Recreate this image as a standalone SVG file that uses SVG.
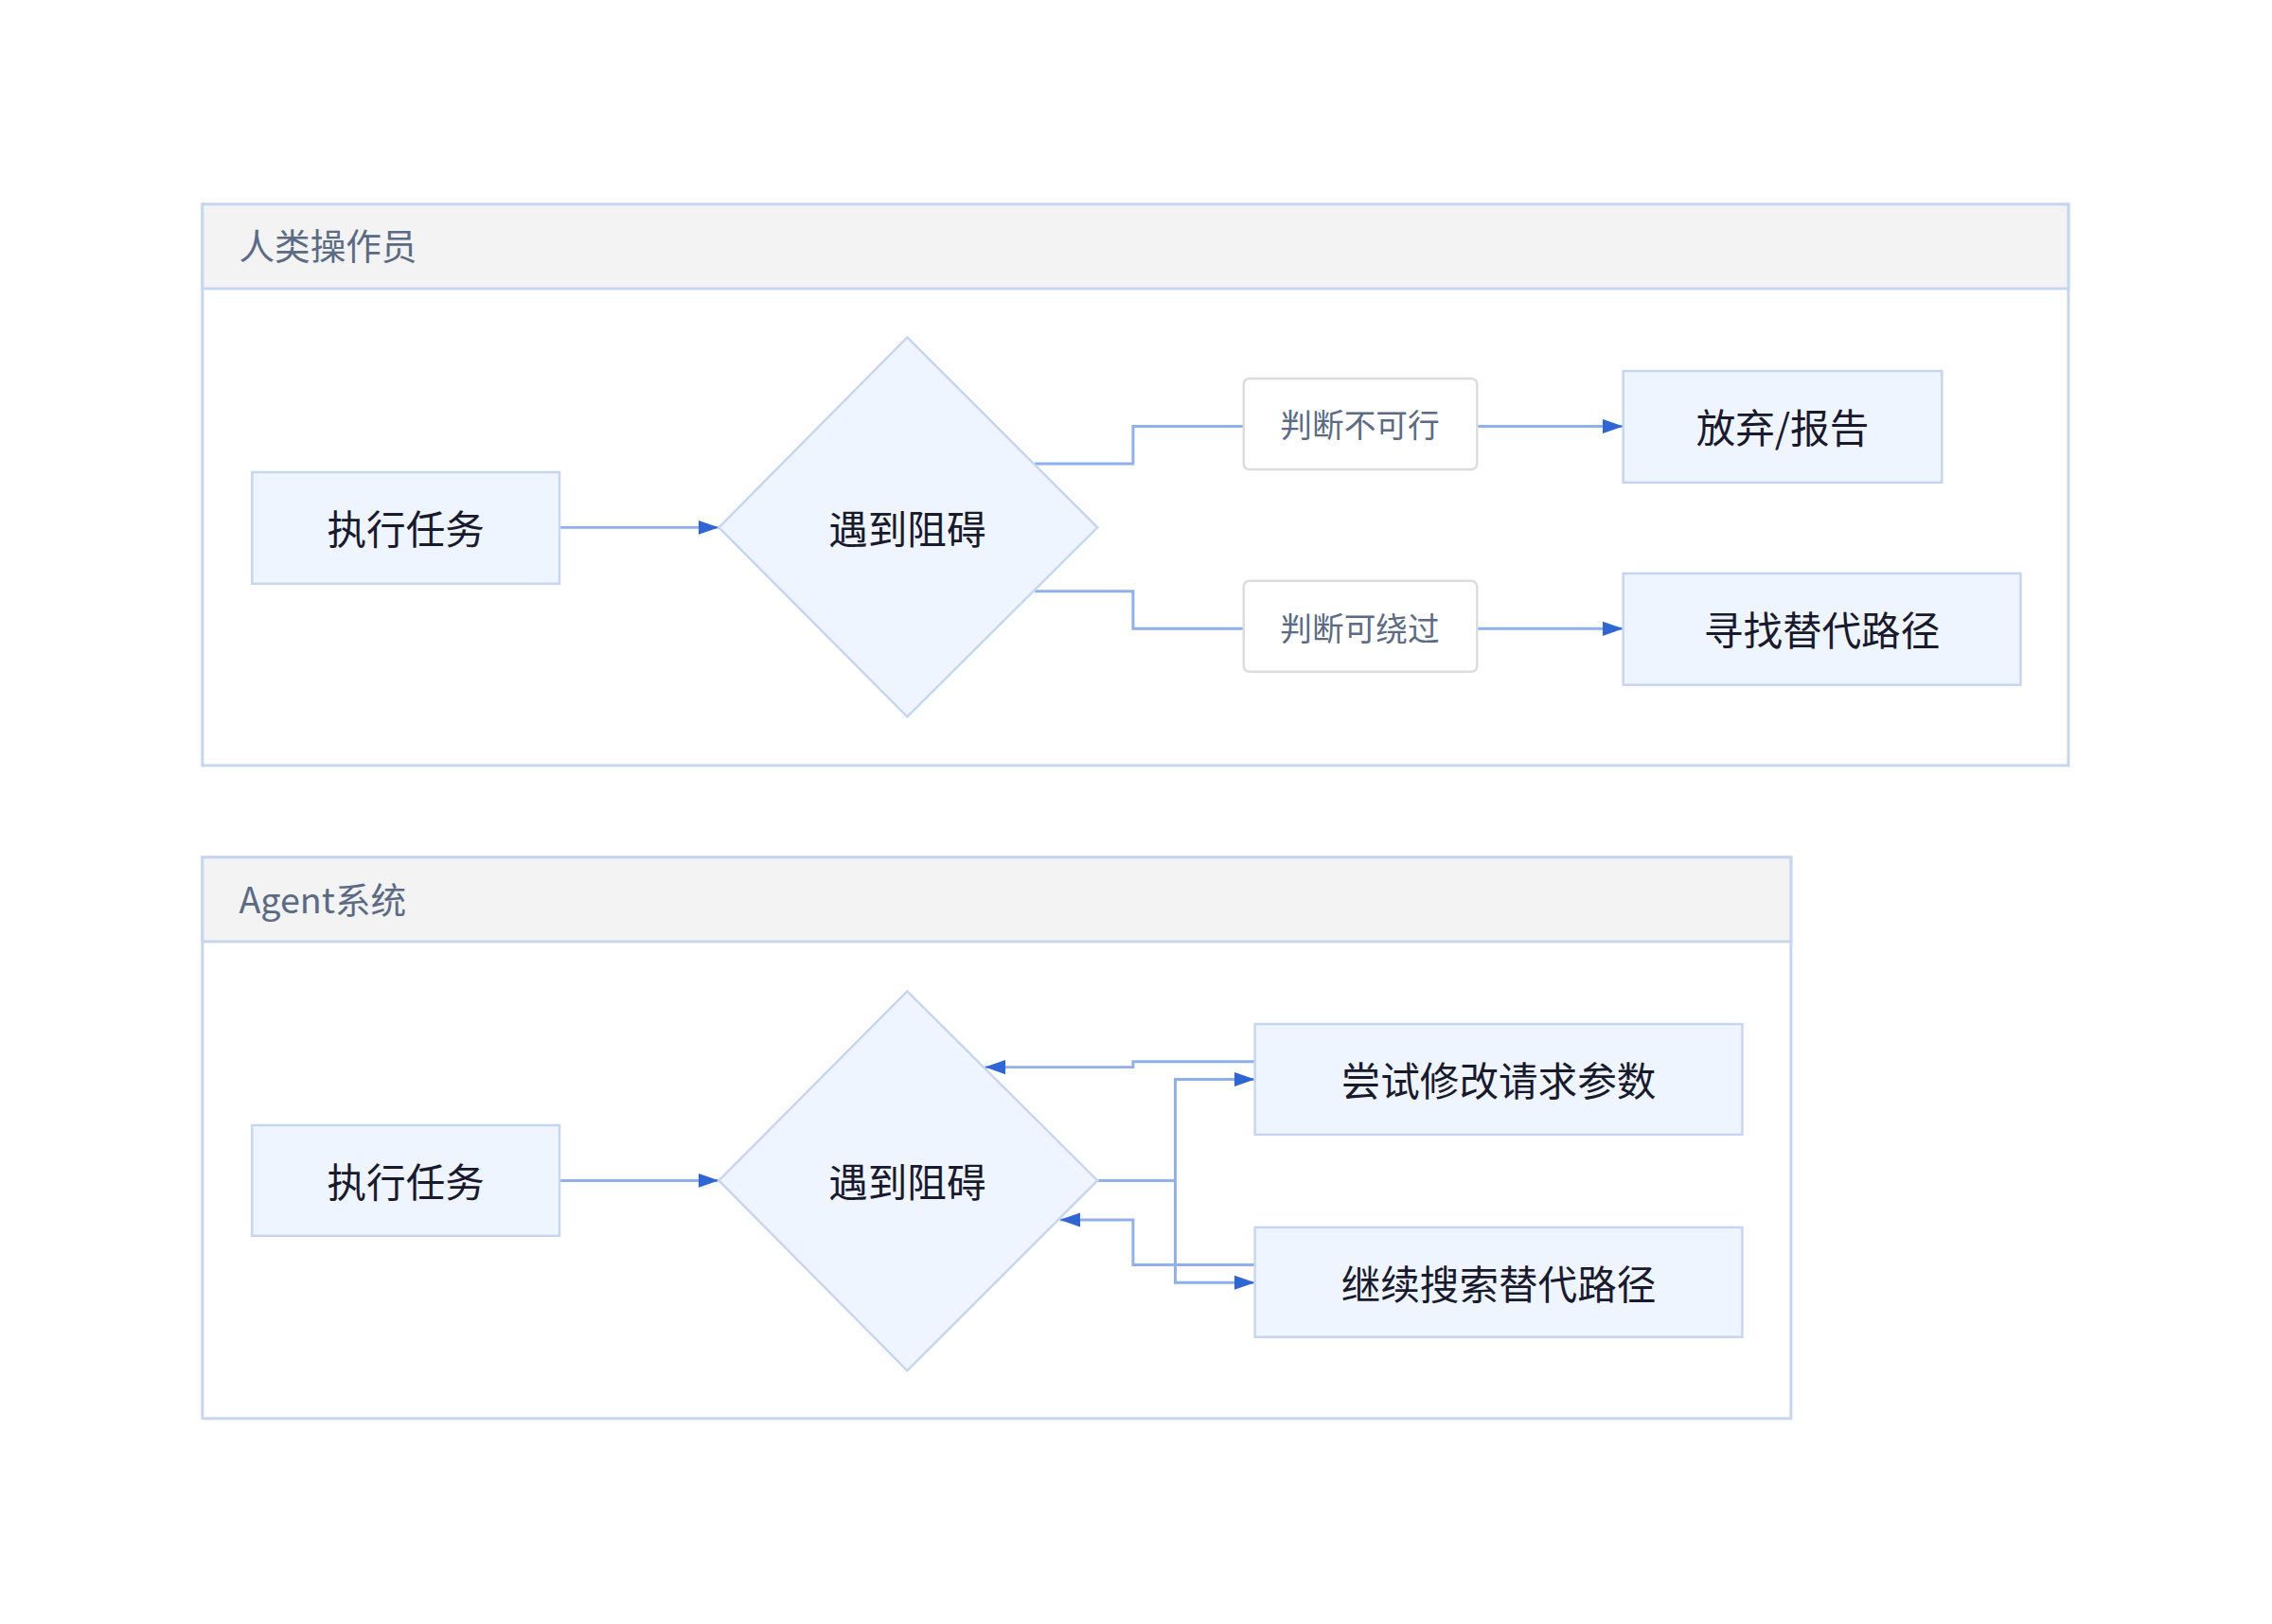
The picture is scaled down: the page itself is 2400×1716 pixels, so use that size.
<svg xmlns="http://www.w3.org/2000/svg" width="2400" height="1716" viewBox="0 0 2400 1716">
<defs>
<marker id="a" viewBox="0 0 20 14" refX="20" refY="7" markerWidth="22" markerHeight="16" markerUnits="userSpaceOnUse" orient="auto"><path d="M0,0 L20,7 L0,14 z" fill="#2f66d6"/></marker>
</defs>
<style>
.lane{fill:#fff;stroke:#c6d6f2;stroke-width:3}
.hdr{fill:#f3f3f3;stroke:#c6d6f2;stroke-width:3}
.ttl{font-family:"Noto Sans CJK SC","Noto Sans",sans-serif;font-size:38px;fill:#5b6b85}
.n{fill:#eff5fe;stroke:#c6d6f2;stroke-width:2.5}
.t{font-family:"Noto Sans CJK SC",sans-serif;font-size:42px;fill:#1a1a2e;text-anchor:middle;dominant-baseline:central}
.lb{fill:#fff;stroke:#dcdcdc;stroke-width:2.5}
.lt{font-family:"Noto Sans CJK SC",sans-serif;font-size:34px;fill:#5b6b85;text-anchor:middle;dominant-baseline:central}
.c{fill:none;stroke:#8fb0ec;stroke-width:3;marker-end:url(#a)}
.c0{fill:none;stroke:#8fb0ec;stroke-width:3}
</style>
<rect width="2400" height="1716" fill="#fff"/>
<g transform="scale(0.99)">
<g id="lane1">
<rect class="lane" x="216" y="218" width="1991" height="599"/>
<rect class="hdr" x="216" y="218" width="1991" height="90"/>
<text class="ttl" x="255" y="277">人类操作员</text>
</g>
<g id="lane2">
<rect class="lane" x="216" y="915" width="1695" height="599"/>
<rect class="hdr" x="216" y="915" width="1695" height="90"/>
<text class="ttl" x="255" y="975">Agent系统</text>
</g>
<g id="connectors">
<path class="c" d="M597,563 H767"/>
<path class="c0" d="M1104,495 H1209 V455 H1327"/>
<path class="c" d="M1576,455 H1732"/>
<path class="c0" d="M1104,631 H1209 V671 H1327"/>
<path class="c" d="M1576,671 H1732"/>
<path class="c" d="M597,1260 H767"/>
<path class="c" d="M1171,1260 H1254 V1152 H1339"/>
<path class="c" d="M1254,1260 V1369 H1339"/>
<path class="c" d="M1339,1133 H1209 V1139 H1051"/>
<path class="c" d="M1339,1350 H1209 V1302 H1131"/>
</g>
<g id="h_exec"><rect class="n" x="269" y="504" width="328" height="119"/><text class="t" x="433" y="563">执行任务</text></g>
<g id="h_block"><path class="n" d="M968,360 L1171,563 L968,765 L767,563 Z"/><text class="t" x="968" y="563">遇到阻碍</text></g>
<g id="h_lbl1"><rect class="lb" x="1327" y="404" width="249" height="97" rx="6"/><text class="lt" x="1451" y="452">判断不可行</text></g>
<g id="h_lbl2"><rect class="lb" x="1327" y="620" width="249" height="97" rx="6"/><text class="lt" x="1451" y="669">判断可绕过</text></g>
<g id="h_abandon"><rect class="n" x="1732" y="396" width="340" height="119"/><text class="t" x="1902" y="455">放弃/报告</text></g>
<g id="h_alt"><rect class="n" x="1732" y="612" width="424" height="119"/><text class="t" x="1944" y="671">寻找替代路径</text></g>
<g id="a_exec"><rect class="n" x="269" y="1201" width="328" height="118"/><text class="t" x="433" y="1260">执行任务</text></g>
<g id="a_block"><path class="n" d="M968,1058 L1171,1260 L968,1463 L767,1260 Z"/><text class="t" x="968" y="1260">遇到阻碍</text></g>
<g id="a_modify"><rect class="n" x="1339" y="1093" width="520" height="118"/><text class="t" x="1599" y="1152">尝试修改请求参数</text></g>
<g id="a_search"><rect class="n" x="1339" y="1310" width="520" height="117"/><text class="t" x="1599" y="1369">继续搜索替代路径</text></g>
</g>
</svg>
